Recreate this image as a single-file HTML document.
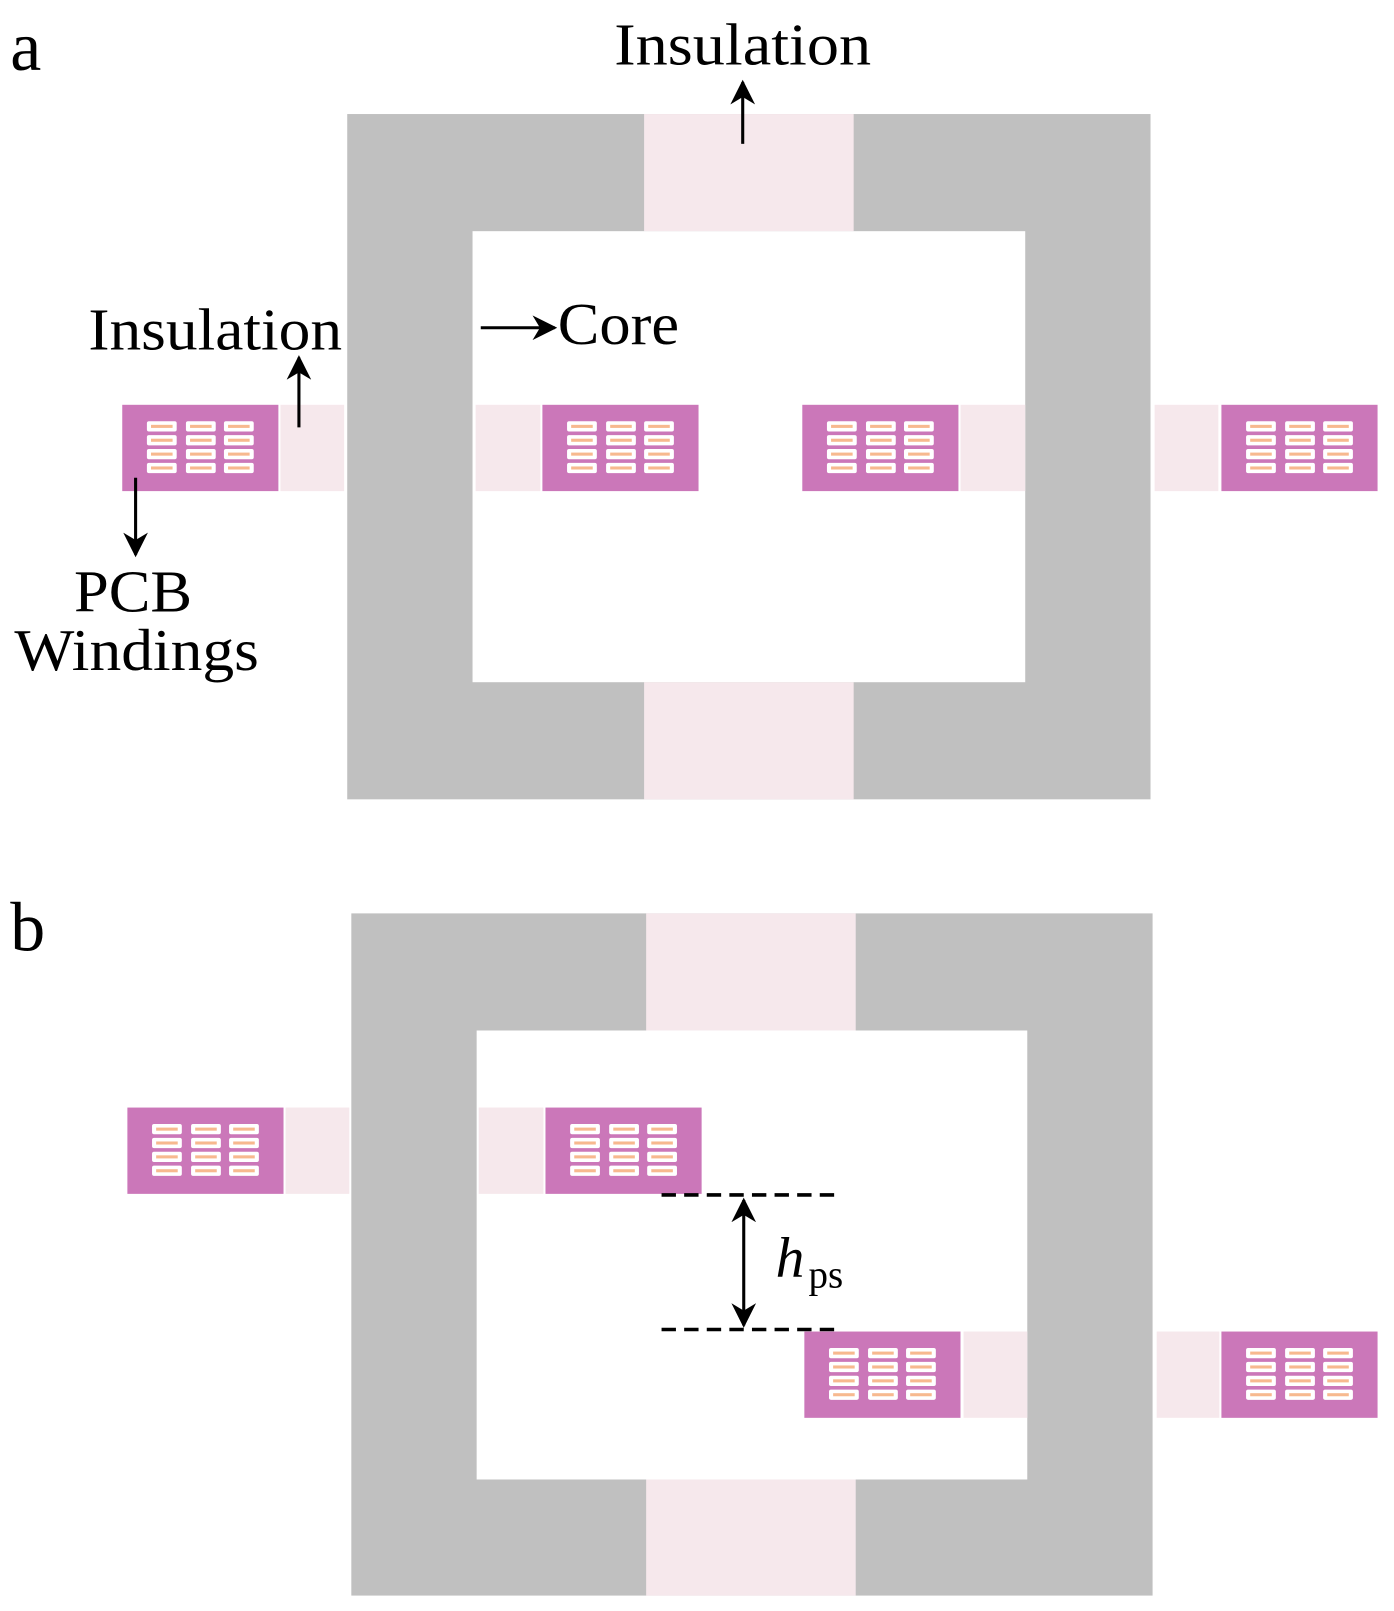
<!DOCTYPE html>
<html><head><meta charset="utf-8"><style>
html,body{margin:0;padding:0;background:#fff;}
svg{display:block;}
text{font-family:"Liberation Serif",serif;fill:#000;}
</style></head><body>
<svg width="1394" height="1611" viewBox="0 0 1357 1568" preserveAspectRatio="none" xmlns="http://www.w3.org/2000/svg">
<defs>
<g id="w">
  <rect x="0" y="0" width="152" height="84" fill="#cb77b9"/>
  <g id="col">
    <rect x="24" y="16" width="29" height="10" rx="2" fill="#fff"/><rect x="28" y="19.5" width="21" height="3" fill="#f7b98f"/>
    <rect x="24" y="29.5" width="29" height="10" rx="2" fill="#fff"/><rect x="28" y="33" width="21" height="3" fill="#f7b98f"/>
    <rect x="24" y="43" width="29" height="10" rx="2" fill="#fff"/><rect x="28" y="46.5" width="21" height="3" fill="#f7b98f"/>
    <rect x="24" y="56.5" width="29" height="10" rx="2" fill="#fff"/><rect x="28" y="60" width="21" height="3" fill="#f7b98f"/>
  </g>
  <use href="#col" x="38"/>
  <use href="#col" x="75"/>
</g>
<marker id="ah" viewBox="0 0 10 10" refX="9" refY="5" markerWidth="8" markerHeight="8" orient="auto-start-reverse">
  <path d="M0,0 L10,5 L0,10 L3,5 z" fill="#000"/>
</marker>
</defs>

<rect x="338" y="111" width="782" height="667" fill="#c0c0c0"/>
<rect x="627" y="111" width="204" height="114" fill="#f6e8ec"/>
<rect x="627" y="664" width="204" height="114" fill="#f6e8ec"/>
<rect x="460" y="225" width="538" height="439" fill="#fff"/>
<rect x="273" y="394" width="62" height="84" fill="#f6e8ec"/>
<use href="#w" x="119" y="394"/>
<rect x="463" y="394" width="63" height="84" fill="#f6e8ec"/>
<use href="#w" x="528" y="394"/>
<use href="#w" x="781" y="394"/>
<rect x="935" y="394" width="63" height="84" fill="#f6e8ec"/>
<rect x="1124" y="394" width="62" height="84" fill="#f6e8ec"/>
<use href="#w" x="1189" y="394"/>

<text x="10" y="68" font-size="68">a</text>
<text x="598" y="63" font-size="58" textLength="250" lengthAdjust="spacingAndGlyphs">Insulation</text>
<line x1="723" y1="140" x2="723" y2="80" stroke="#000" stroke-width="3" marker-end="url(#ah)"/>
<text x="86" y="340" font-size="58" textLength="247" lengthAdjust="spacingAndGlyphs">Insulation</text>
<line x1="291" y1="416" x2="291" y2="348" stroke="#000" stroke-width="3" marker-end="url(#ah)"/>
<text x="543" y="335" font-size="58" textLength="118" lengthAdjust="spacingAndGlyphs">Core</text>
<line x1="468" y1="319" x2="540" y2="319" stroke="#000" stroke-width="3" marker-end="url(#ah)"/>
<line x1="132" y1="465" x2="132" y2="540" stroke="#000" stroke-width="3" marker-end="url(#ah)"/>
<text x="72" y="595" font-size="58" textLength="115" lengthAdjust="spacingAndGlyphs">PCB</text>
<text x="14" y="652" font-size="58" textLength="238" lengthAdjust="spacingAndGlyphs">Windings</text>

<rect x="342" y="889" width="780" height="664" fill="#c0c0c0"/>
<rect x="629" y="889" width="204" height="114" fill="#f6e8ec"/>
<rect x="629" y="1440" width="204" height="113" fill="#f6e8ec"/>
<rect x="464" y="1003" width="536" height="437" fill="#fff"/>
<use href="#w" x="124" y="1078"/>
<rect x="278" y="1078" width="62" height="84" fill="#f6e8ec"/>
<rect x="466" y="1078" width="63" height="84" fill="#f6e8ec"/>
<use href="#w" x="531" y="1078"/>
<use href="#w" x="783" y="1296"/>
<rect x="938" y="1296" width="62" height="84" fill="#f6e8ec"/>
<rect x="1126" y="1296" width="61" height="84" fill="#f6e8ec"/>
<use href="#w" x="1189" y="1296"/>

<line x1="644" y1="1163" x2="818" y2="1163" stroke="#000" stroke-width="3.5" stroke-dasharray="14,8"/>
<line x1="644" y1="1294" x2="818" y2="1294" stroke="#000" stroke-width="3.5" stroke-dasharray="14,8"/>
<line x1="724" y1="1168" x2="724" y2="1290" stroke="#000" stroke-width="3" marker-start="url(#ah)" marker-end="url(#ah)"/>
<text x="755" y="1243" font-size="56" font-style="italic">h</text>
<text x="787" y="1253" font-size="38">ps</text>
<text x="10" y="925" font-size="68">b</text>
</svg>
</body></html>
